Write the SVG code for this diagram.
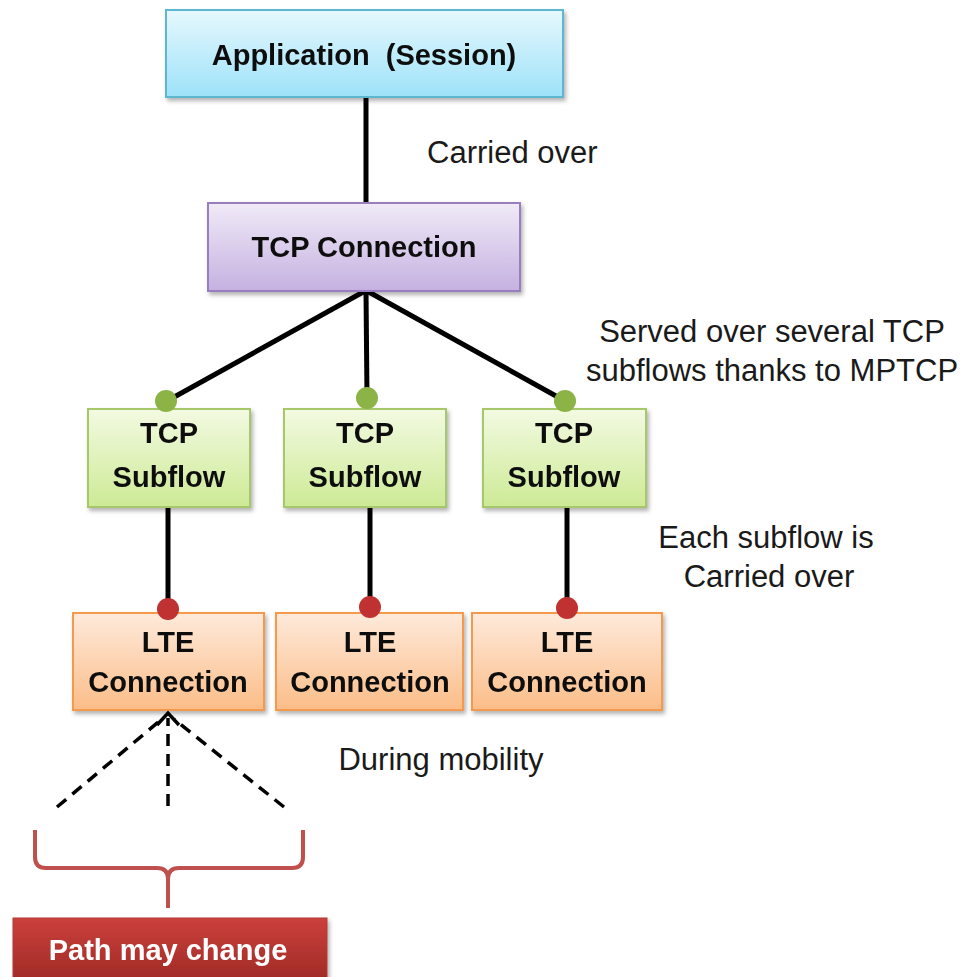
<svg xmlns="http://www.w3.org/2000/svg" width="960" height="977" viewBox="0 0 960 977">
<style>
.b{font-family:"Liberation Sans",Arial,sans-serif;font-weight:bold;font-size:29px;fill:#111;text-anchor:middle}
.r{font-family:"Liberation Sans",Arial,sans-serif;font-size:31px;fill:#1a1a1a}
.c{text-anchor:middle}
.ln{stroke:#000;stroke-width:5;fill:none}
.dl{stroke:#000;stroke-width:3.5;fill:none;stroke-dasharray:12 8}
.gd{fill:#8cb346}
.rd{fill:#c03232}
</style>
<defs>
<linearGradient id="gA" x1="0" y1="0" x2="0" y2="1"><stop offset="0" stop-color="#e6f8fd"/><stop offset="1" stop-color="#9de2f9"/></linearGradient>
<linearGradient id="gT" x1="0" y1="0" x2="0" y2="1"><stop offset="0" stop-color="#f0eaf7"/><stop offset="1" stop-color="#c5b1e1"/></linearGradient>
<linearGradient id="gS" x1="0" y1="0" x2="0" y2="1"><stop offset="0" stop-color="#f3fae2"/><stop offset="1" stop-color="#cdea95"/></linearGradient>
<linearGradient id="gL" x1="0" y1="0" x2="0" y2="1"><stop offset="0" stop-color="#feeadb"/><stop offset="1" stop-color="#fbbd88"/></linearGradient>
<linearGradient id="gP" x1="0" y1="0" x2="0" y2="1"><stop offset="0" stop-color="#cc403b"/><stop offset="1" stop-color="#9a2824"/></linearGradient>
<filter id="sh" x="-10%" y="-10%" width="125%" height="130%"><feDropShadow dx="2" dy="3" stdDeviation="2" flood-color="#000" flood-opacity="0.3"/></filter>
</defs>

<g id="connectors">
<line class="ln" x1="366" y1="97" x2="366" y2="203"/>
<line class="ln" x1="365" y1="291" x2="167" y2="401"/>
<line class="ln" x1="366" y1="291" x2="367" y2="398"/>
<line class="ln" x1="367" y1="291" x2="565" y2="401"/>
<line class="ln" x1="168" y1="507" x2="168" y2="608"/>
<line class="ln" x1="370" y1="507" x2="370" y2="606"/>
<line class="ln" x1="567" y1="507" x2="567" y2="608"/>
<path class="dl" d="M57,807 L162,719"/>
<path class="dl" d="M168,806 L168,718"/>
<path class="dl" d="M284,807 L174,719"/>
</g>

<g id="app" filter="url(#sh)">
<rect x="166" y="10" width="397" height="87" fill="url(#gA)" stroke="#5eb6d0" stroke-width="2"/>
<text class="b" x="364" y="65" xml:space="preserve">Application  (Session)</text>
</g>

<g id="tcp-connection" filter="url(#sh)">
<rect x="208" y="203" width="312" height="88" fill="url(#gT)" stroke="#9a7fc0" stroke-width="2"/>
<text class="b" x="364" y="257">TCP Connection</text>
</g>

<g id="subflow1" filter="url(#sh)">
<rect x="88" y="409" width="162" height="98" fill="url(#gS)" stroke="#a6c86a" stroke-width="2"/>
<text class="b" x="169" y="443">TCP</text>
<text class="b" x="169" y="487">Subflow</text>
</g>
<g id="subflow2" filter="url(#sh)">
<rect x="284" y="409" width="162" height="98" fill="url(#gS)" stroke="#a6c86a" stroke-width="2"/>
<text class="b" x="365" y="443">TCP</text>
<text class="b" x="365" y="487">Subflow</text>
</g>
<g id="subflow3" filter="url(#sh)">
<rect x="483" y="409" width="163" height="98" fill="url(#gS)" stroke="#a6c86a" stroke-width="2"/>
<text class="b" x="564" y="443">TCP</text>
<text class="b" x="564" y="487">Subflow</text>
</g>

<g id="lte1" filter="url(#sh)">
<rect x="73" y="613" width="191" height="97" fill="url(#gL)" stroke="#f59a4e" stroke-width="2"/>
<text class="b" x="168" y="652">LTE</text>
<text class="b" x="168" y="692">Connection</text>
</g>
<g id="lte2" filter="url(#sh)">
<rect x="276" y="613" width="187" height="97" fill="url(#gL)" stroke="#f59a4e" stroke-width="2"/>
<text class="b" x="370" y="652">LTE</text>
<text class="b" x="370" y="692">Connection</text>
</g>
<g id="lte3" filter="url(#sh)">
<rect x="472" y="613" width="190" height="97" fill="url(#gL)" stroke="#f59a4e" stroke-width="2"/>
<text class="b" x="567" y="652">LTE</text>
<text class="b" x="567" y="692">Connection</text>
</g>

<g id="connector-ends">
<circle class="gd" cx="166" cy="401" r="11"/>
<circle class="gd" cx="367" cy="398" r="11"/>
<circle class="gd" cx="565" cy="401" r="11"/>
<circle class="rd" cx="168" cy="609" r="11"/>
<circle class="rd" cx="370" cy="607" r="11"/>
<circle class="rd" cx="567" cy="608" r="11"/>
<path d="M157,725 L168,713 L179,725" fill="none" stroke="#000" stroke-width="3.5" stroke-linejoin="miter"/>
</g>

<g id="brace">
<path d="M35,830 V857 Q35,868 46,868 H157 Q168,868 168,879 V908 M168,879 Q168,868 179,868 H292 Q303,868 303,857 V830" fill="none" stroke="#c0504d" stroke-width="4"/>
</g>

<g id="path-may-change" filter="url(#sh)">
<rect x="13" y="918" width="314" height="70" fill="url(#gP)" stroke="#b23a36" stroke-width="1"/>
<text class="b" x="168" y="960" style="fill:#fff">Path may change</text>
</g>

<g id="labels">
<text class="r" x="427" y="163">Carried over</text>
<text class="r c" x="772" y="342">Served over several TCP</text>
<text class="r c" x="772" y="381">subflows thanks to MPTCP</text>
<text class="r c" x="766" y="548">Each subflow is</text>
<text class="r c" x="769" y="587">Carried over</text>
<text class="r c" x="441" y="770">During mobility</text>
</g>
</svg>
